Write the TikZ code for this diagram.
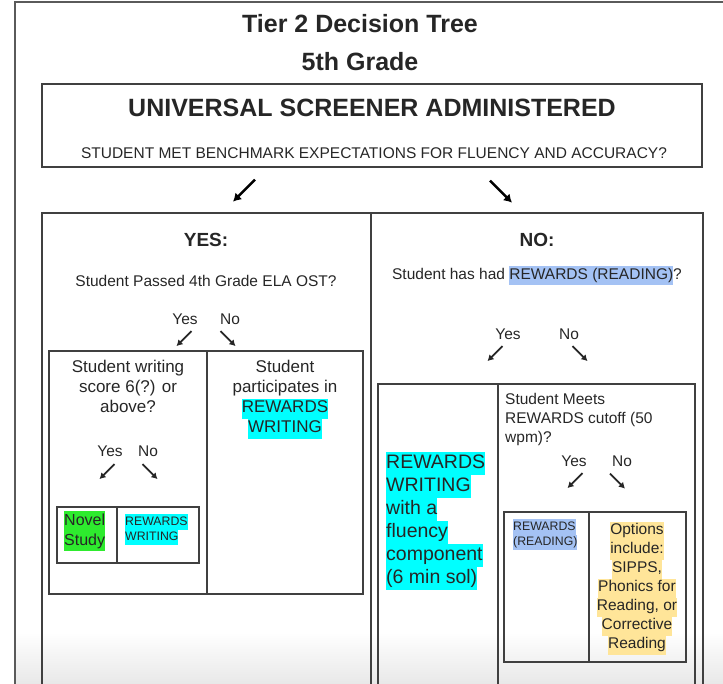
\documentclass[tikz,border=0pt]{standalone}
\usepackage{fontspec}
\setmainfont{Liberation Sans}
\usetikzlibrary{positioning,arrows.meta}
\definecolor{hlcyan}{HTML}{00FFFF}
\definecolor{hlgreen}{HTML}{2EEB2E}
\definecolor{hlblue}{HTML}{A4C2F4}
\definecolor{hlyellow}{HTML}{FFE599}
\definecolor{linegray}{HTML}{404040}
\definecolor{framegray}{HTML}{5A5A5A}
\newcommand{\hlt}[2]{{\setlength{\fboxsep}{0pt}\colorbox{#1}{\strut #2}}}

\begin{document}
\begin{tikzpicture}[x=1pt,y=-1pt,
  every node/.style={inner sep=0pt,text=black!85},
  frame/.style={draw=framegray,line width=1.8pt},
  cell/.style={draw=linegray,line width=1.3pt},
  title/.style={font=\bfseries\fontsize{25}{30}\selectfont},
  caps/.style={font=\fontsize{15.5}{19}\selectfont},
  head/.style={font=\bfseries\fontsize{19}{23}\selectfont},
  question/.style={font=\fontsize{15.5}{19}\selectfont},
  celltext/.style={font=\fontsize{17}{20}\selectfont,align=center},
  bigtext/.style={font=\fontsize{19.5}{23}\selectfont,align=left},
  smalltext/.style={font=\fontsize{12.3}{15.5}\selectfont,align=left},
  bigarrow/.style={draw=black,line width=2.4pt,-{Latex[length=8pt,width=9.5pt]}},
  subarrow/.style={draw=black!85,line width=1.8pt,-{Latex[length=6pt,width=7pt]}}]
\useasboundingbox (0,0) rectangle (723,684);
\shade[top color=white,bottom color=black!9] (15,632) rectangle (723,684);
\draw[frame] (15,684) -- (15,2) -- (723,2);
%
\node[title] (tier) at (360,24) {Tier 2 Decision Tree};
\node[title] (grade) at (360,62) {5th Grade};
\draw[cell] (42,84) rectangle (702,167);
\node[title] (screener) at (372,108) {UNIVERSAL SCREENER ADMINISTERED};
\node[caps] (benchmark) at (374,153) {STUDENT MET BENCHMARK EXPECTATIONS FOR FLUENCY AND ACCURACY?};
\draw[bigarrow] ([shift={(-119,21)}]benchmark.south) -- ++(-22,22);
\draw[bigarrow] ([shift={(116,22)}]benchmark.south) -- ++(22,22);
%
\draw[cell] (42,684) -- (42,213) -- (703,213) -- (703,684);
\draw[cell] (371,213) -- (371,684);
\node[head] (yes) at (206,240) {YES:};
\node[head] (no) at (537,240) {NO:};
%
\node[question] (passed) at (206,281) {Student Passed 4th Grade ELA OST?};
\node[question] (passyes) at (185,319) {Yes};
\node[question] (passno) at (230,319) {No};
\draw[subarrow] ([shift={(6.5,6.5)}]passyes.south) -- ++(-15,15);
\draw[subarrow] ([shift={(-9.5,6.5)}]passno.south) -- ++(15,15);
\draw[cell] (49,351) rectangle (363,594);
\draw[cell] (207,351) -- (207,594);
\node[celltext,anchor=north] (writing) at (128,360) {Student writing\\score 6(?) or\\above?};
\node[question] (writeyes) at (110,451) {Yes};
\node[question] (writeno) at (148,451) {No};
\draw[subarrow] ([shift={(4.5,7.5)}]writeyes.south) -- ++(-15,15);
\draw[subarrow] ([shift={(-5.5,7.5)}]writeno.south) -- ++(15,15);
\draw[cell] (57,507) rectangle (199,563);
\draw[cell] (117,507) -- (117,563);
\node[font=\fontsize{16}{20}\selectfont,align=left,anchor=north west] (novel) at (64,511) {\hlt{hlgreen}{Novel}\\\hlt{hlgreen}{Study}};
\node[smalltext,anchor=north west] (rwsmall) at (125,514) {\hlt{hlcyan}{REWARDS}\\\hlt{hlcyan}{WRITING}};
\node[celltext,anchor=north] (participates) at (285,360) {Student\\participates in\\\hlt{hlcyan}{REWARDS}\\\hlt{hlcyan}{WRITING}};
%
\node[question] (hadrewards) at (537,276) {Student has had \hlt{hlblue}{REWARDS (READING)}?};
\node[question] (hadyes) at (508,334) {Yes};
\node[question] (hadno) at (569,334) {No};
\draw[subarrow] ([shift={(-5.5,6.5)}]hadyes.south) -- ++(-15,15);
\draw[subarrow] ([shift={(3.5,6.5)}]hadno.south) -- ++(15,15);
\draw[cell] (378,684) -- (378,384) -- (695,384) -- (695,684);
\draw[cell] (498,384) -- (498,684);
\node[bigtext,anchor=west] (fluency) at (386,521) {\hlt{hlcyan}{REWARDS}\\\hlt{hlcyan}{WRITING}\\\hlt{hlcyan}{with a}\\\hlt{hlcyan}{fluency}\\\hlt{hlcyan}{component}\\\hlt{hlcyan}{(6 min sol)}};
\node[question,align=left,anchor=north west] (cutoff) at (505,393) {Student Meets\\REWARDS cutoff (50\\wpm)?};
\node[question] (cutyes) at (574,461) {Yes};
\node[question] (cutno) at (622,461) {No};
\draw[subarrow] ([shift={(8.5,6.5)}]cutyes.south) -- ++(-15,15);
\draw[subarrow] ([shift={(-12,7)}]cutno.south) -- ++(15,15);
\draw[cell] (504,512) rectangle (686,662);
\draw[cell] (589,512) -- (589,662);
\node[smalltext,anchor=north west] (rrsmall) at (513,519) {\hlt{hlblue}{REWARDS}\\\hlt{hlblue}{(READING)}};
\node[question,align=center] (options) at (637,588) {\hlt{hlyellow}{Options}\\\hlt{hlyellow}{include:}\\\hlt{hlyellow}{SIPPS,}\\\hlt{hlyellow}{Phonics for}\\\hlt{hlyellow}{Reading, or}\\\hlt{hlyellow}{Corrective}\\\hlt{hlyellow}{Reading}};
\end{tikzpicture}
\end{document}
